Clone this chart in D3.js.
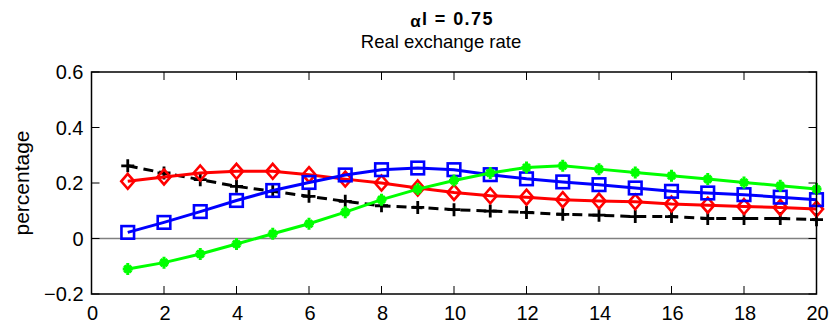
<!DOCTYPE html>
<html>
<head>
<meta charset="utf-8">
<script src="https://cdn.jsdelivr.net/npm/d3@7"></script>
<style>
  body { margin: 0; background: #fff; }
  svg { display: block; font-family: "Liberation Sans", Arial, sans-serif; }
</style>
</head>
<body>
<div id="chart"></div>
<script>
const periods = d3.range(1, 21);
const xTicks = [0, 2, 4, 6, 8, 10, 12, 14, 16, 18, 20];
const yTicks = [-0.2, 0, 0.2, 0.4, 0.6];

const blackPlus = [0.262, 0.236, 0.212, 0.188, 0.170, 0.152, 0.134, 0.118, 0.112, 0.104,
  0.099, 0.094, 0.087, 0.084, 0.079, 0.079, 0.072, 0.072, 0.072, 0.068];
const redDiamond = [0.206, 0.222, 0.236, 0.242, 0.242, 0.230, 0.214, 0.200, 0.182, 0.166,
  0.154, 0.149, 0.140, 0.135, 0.132, 0.124, 0.120, 0.115, 0.112, 0.106];
const blueSquare = [0.022, 0.058, 0.097, 0.137, 0.173, 0.202, 0.229, 0.248, 0.254, 0.248,
  0.230, 0.215, 0.204, 0.194, 0.182, 0.170, 0.164, 0.158, 0.149, 0.140];
const greenStar = [-0.110, -0.087, -0.056, -0.020, 0.017, 0.053, 0.095, 0.140, 0.178, 0.209,
  0.236, 0.256, 0.262, 0.250, 0.238, 0.226, 0.214, 0.202, 0.190, 0.178];

const width = 830;
const height = 326;
const plot = { left: 91.5, right: 816.5, top: 72, bottom: 294 };

const svg = d3.select("#chart")
  .append("svg")
  .attr("width", width)
  .attr("height", height);

const x = d3.scaleLinear().domain([0, 20]).range([plot.left, plot.right]);
const y = d3.scaleLinear().domain([-0.2, 0.6]).range([plot.bottom, plot.top]);

// zero line
svg.append("line")
  .attr("x1", plot.left).attr("x2", plot.right)
  .attr("y1", y(0)).attr("y2", y(0))
  .attr("stroke", "#808080")
  .attr("stroke-width", 1.3);

const line = d3.line()
  .x((d, i) => x(periods[i]))
  .y((d) => y(d));

function drawSeries(values, color, dash, markerFn) {
  svg.append("path")
    .datum(values)
    .attr("d", line)
    .attr("fill", "none")
    .attr("stroke", color)
    .attr("stroke-width", 3)
    .attr("stroke-dasharray", dash);

  const g = svg.append("g");
  values.forEach((v, i) => markerFn(g, x(periods[i]), y(v), color));
}

function plusMarker(g, cx, cy, color) {
  g.append("path")
    .attr("d", `M${cx - 6.5},${cy}H${cx + 6.5}M${cx},${cy - 6.5}V${cy + 6.5}`)
    .attr("stroke", color)
    .attr("stroke-width", 2.8)
    .attr("fill", "none");
}

function diamondMarker(g, cx, cy, color) {
  g.append("path")
    .attr("d", `M${cx},${cy - 7.5}L${cx + 6.5},${cy}L${cx},${cy + 7.5}L${cx - 6.5},${cy}Z`)
    .attr("stroke", color)
    .attr("stroke-width", 2.6)
    .attr("fill", "none");
}

function squareMarker(g, cx, cy, color) {
  g.append("rect")
    .attr("x", cx - 6.3).attr("y", cy - 6.3)
    .attr("width", 12.6).attr("height", 12.6)
    .attr("stroke", color)
    .attr("stroke-width", 2.6)
    .attr("fill", "none");
}

function starMarker(g, cx, cy, color) {
  g.append("path")
    .attr("d", `M${cx - 5},${cy}H${cx + 5}M${cx},${cy - 6}V${cy + 6}` +
      `M${cx - 3.5},${cy - 3.5}L${cx + 3.5},${cy + 3.5}M${cx - 3.5},${cy + 3.5}L${cx + 3.5},${cy - 3.5}`)
    .attr("stroke", color)
    .attr("stroke-width", 3)
    .attr("fill", "none");
}

drawSeries(blackPlus, "#000000", "10,6", plusMarker);
drawSeries(redDiamond, "#ff0000", null, diamondMarker);
drawSeries(blueSquare, "#0000ff", null, squareMarker);
drawSeries(greenStar, "#00ff00", null, starMarker);

// frame
svg.append("rect")
  .attr("x", plot.left).attr("y", plot.top)
  .attr("width", plot.right - plot.left).attr("height", plot.bottom - plot.top)
  .attr("fill", "none")
  .attr("stroke", "#000")
  .attr("stroke-width", 1.5);

// inward ticks
const tickLen = 8;
xTicks.forEach((t) => {
  svg.append("line").attr("x1", x(t)).attr("x2", x(t))
    .attr("y1", plot.bottom).attr("y2", plot.bottom - tickLen).attr("stroke", "#000");
  svg.append("line").attr("x1", x(t)).attr("x2", x(t))
    .attr("y1", plot.top).attr("y2", plot.top + tickLen).attr("stroke", "#000");
  svg.append("text")
    .attr("x", x(t) + 1).attr("y", plot.bottom + 26)
    .attr("text-anchor", "middle")
    .attr("font-size", 20)
    .text(t);
});

yTicks.forEach((t) => {
  svg.append("line").attr("x1", plot.left).attr("x2", plot.left + tickLen)
    .attr("y1", y(t)).attr("y2", y(t)).attr("stroke", "#000");
  svg.append("line").attr("x1", plot.right).attr("x2", plot.right - tickLen)
    .attr("y1", y(t)).attr("y2", y(t)).attr("stroke", "#000");
  svg.append("text")
    .attr("x", plot.left - 8).attr("y", y(t) + 7)
    .attr("text-anchor", "end")
    .attr("font-size", 20)
    .text(t === 0 ? "0" : d3.format(".1f")(t));
});

// y label
svg.append("text")
  .attr("transform", `translate(29, ${(plot.top + plot.bottom) / 2}) rotate(-90)`)
  .attr("text-anchor", "middle")
  .attr("font-size", 21)
  .text("percentage");

// titles
const title = svg.append("text")
  .attr("x", 452)
  .attr("y", 25)
  .attr("text-anchor", "middle")
  .attr("font-size", 18)
  .attr("letter-spacing", 1.4)
  .attr("font-weight", "bold");
title.append("tspan").attr("font-size", 17).attr("dy", 2).text("α");
title.append("tspan").attr("dy", -2).text("l = 0.75");

svg.append("text")
  .attr("x", 441)
  .attr("y", 48)
  .attr("text-anchor", "middle")
  .attr("font-size", 18.5)
  .text("Real exchange rate");
</script>
</body>
</html>
